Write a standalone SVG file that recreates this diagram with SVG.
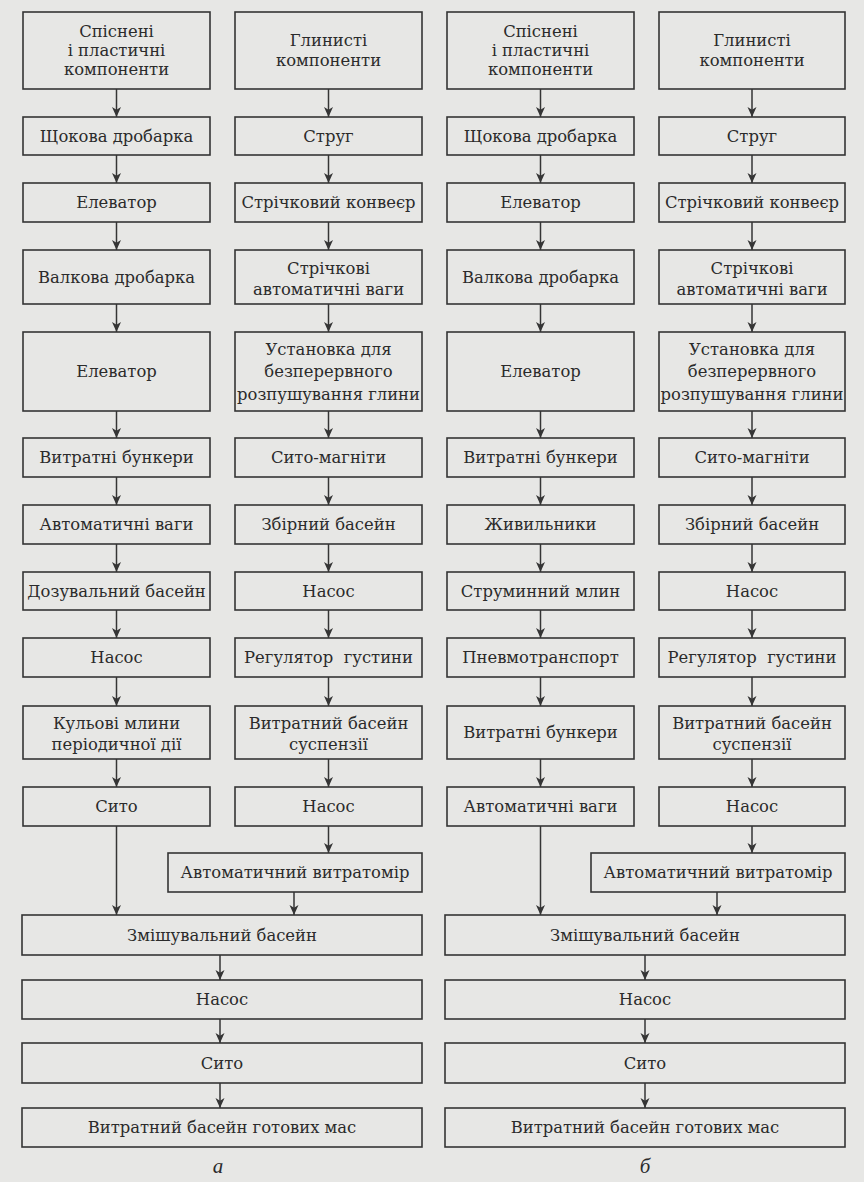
<svg xmlns="http://www.w3.org/2000/svg" width="864" height="1182" viewBox="0 0 864 1182">
<style>
.b{fill:none;stroke:#353535;stroke-width:1.6}
.t{font-family:"DejaVu Serif","Liberation Serif",serif;font-size:16.4px;fill:#2b2b2b;text-anchor:middle}
.c line{stroke:#353535;stroke-width:1.5}
.lab{font-family:"Liberation Serif",serif;font-style:italic;font-size:21px;fill:#2b2b2b;text-anchor:middle}
</style>
<defs>
<marker id="ah" markerUnits="userSpaceOnUse" markerWidth="10" markerHeight="11" refX="10" refY="4.5" orient="auto" viewBox="0 0 10 9">
<path d="M0,0 L10,4.5 L0,9 L2.8,4.5 z" fill="#353535"/>
</marker>
</defs>
<rect width="864" height="1182" fill="#e7e7e5"/>

<g class="c" id="connectors">
<line x1="116.5" y1="89" x2="116.5" y2="117" marker-end="url(#ah)"/>
<line x1="116.5" y1="155" x2="116.5" y2="183" marker-end="url(#ah)"/>
<line x1="116.5" y1="222" x2="116.5" y2="250" marker-end="url(#ah)"/>
<line x1="116.5" y1="304" x2="116.5" y2="332" marker-end="url(#ah)"/>
<line x1="116.5" y1="411" x2="116.5" y2="438" marker-end="url(#ah)"/>
<line x1="116.5" y1="477" x2="116.5" y2="505" marker-end="url(#ah)"/>
<line x1="116.5" y1="544" x2="116.5" y2="572" marker-end="url(#ah)"/>
<line x1="116.5" y1="610" x2="116.5" y2="638" marker-end="url(#ah)"/>
<line x1="116.5" y1="677" x2="116.5" y2="706" marker-end="url(#ah)"/>
<line x1="116.5" y1="759" x2="116.5" y2="787" marker-end="url(#ah)"/>
<line x1="116.5" y1="826" x2="116.5" y2="915" marker-end="url(#ah)"/>
<line x1="328.5" y1="89" x2="328.5" y2="117" marker-end="url(#ah)"/>
<line x1="328.5" y1="155" x2="328.5" y2="183" marker-end="url(#ah)"/>
<line x1="328.5" y1="222" x2="328.5" y2="250" marker-end="url(#ah)"/>
<line x1="328.5" y1="304" x2="328.5" y2="332" marker-end="url(#ah)"/>
<line x1="328.5" y1="411" x2="328.5" y2="438" marker-end="url(#ah)"/>
<line x1="328.5" y1="477" x2="328.5" y2="505" marker-end="url(#ah)"/>
<line x1="328.5" y1="544" x2="328.5" y2="572" marker-end="url(#ah)"/>
<line x1="328.5" y1="610" x2="328.5" y2="638" marker-end="url(#ah)"/>
<line x1="328.5" y1="677" x2="328.5" y2="706" marker-end="url(#ah)"/>
<line x1="328.5" y1="759" x2="328.5" y2="787" marker-end="url(#ah)"/>
<line x1="328.5" y1="826" x2="328.5" y2="853" marker-end="url(#ah)"/>
<line x1="294" y1="892" x2="294" y2="915" marker-end="url(#ah)"/>
<line x1="220" y1="955" x2="220" y2="980" marker-end="url(#ah)"/>
<line x1="220" y1="1019" x2="220" y2="1043" marker-end="url(#ah)"/>
<line x1="220" y1="1083" x2="220" y2="1108" marker-end="url(#ah)"/>

<line x1="540.5" y1="89" x2="540.5" y2="117" marker-end="url(#ah)"/>
<line x1="540.5" y1="155" x2="540.5" y2="183" marker-end="url(#ah)"/>
<line x1="540.5" y1="222" x2="540.5" y2="250" marker-end="url(#ah)"/>
<line x1="540.5" y1="304" x2="540.5" y2="332" marker-end="url(#ah)"/>
<line x1="540.5" y1="411" x2="540.5" y2="438" marker-end="url(#ah)"/>
<line x1="540.5" y1="477" x2="540.5" y2="505" marker-end="url(#ah)"/>
<line x1="540.5" y1="544" x2="540.5" y2="572" marker-end="url(#ah)"/>
<line x1="540.5" y1="610" x2="540.5" y2="638" marker-end="url(#ah)"/>
<line x1="540.5" y1="677" x2="540.5" y2="706" marker-end="url(#ah)"/>
<line x1="540.5" y1="759" x2="540.5" y2="787" marker-end="url(#ah)"/>
<line x1="540.5" y1="826" x2="540.5" y2="915" marker-end="url(#ah)"/>
<line x1="752" y1="89" x2="752" y2="117" marker-end="url(#ah)"/>
<line x1="752" y1="155" x2="752" y2="183" marker-end="url(#ah)"/>
<line x1="752" y1="222" x2="752" y2="250" marker-end="url(#ah)"/>
<line x1="752" y1="304" x2="752" y2="332" marker-end="url(#ah)"/>
<line x1="752" y1="411" x2="752" y2="438" marker-end="url(#ah)"/>
<line x1="752" y1="477" x2="752" y2="505" marker-end="url(#ah)"/>
<line x1="752" y1="544" x2="752" y2="572" marker-end="url(#ah)"/>
<line x1="752" y1="610" x2="752" y2="638" marker-end="url(#ah)"/>
<line x1="752" y1="677" x2="752" y2="706" marker-end="url(#ah)"/>
<line x1="752" y1="759" x2="752" y2="787" marker-end="url(#ah)"/>
<line x1="752" y1="826" x2="752" y2="853" marker-end="url(#ah)"/>
<line x1="717" y1="892" x2="717" y2="915" marker-end="url(#ah)"/>
<line x1="645" y1="955" x2="645" y2="980" marker-end="url(#ah)"/>
<line x1="645" y1="1019" x2="645" y2="1043" marker-end="url(#ah)"/>
<line x1="645" y1="1083" x2="645" y2="1108" marker-end="url(#ah)"/>
</g>

<!-- Diagram a, left column -->
<g id="a-l1"><rect class="b" x="23" y="12" width="187" height="77"/><text class="t" x="116.5" y="37">Спіснені</text><text class="t" x="116.5" y="56">і пластичні</text><text class="t" x="116.5" y="75">компоненти</text></g>
<g id="a-l2"><rect class="b" x="23" y="117" width="187" height="38"/><text class="t" x="116.5" y="142">Щокова дробарка</text></g>
<g id="a-l3"><rect class="b" x="23" y="183" width="187" height="39"/><text class="t" x="116.5" y="208">Елеватор</text></g>
<g id="a-l4"><rect class="b" x="23" y="250" width="187" height="54"/><text class="t" x="116.5" y="283">Валкова дробарка</text></g>
<g id="a-l5"><rect class="b" x="23" y="332" width="187" height="79"/><text class="t" x="116.5" y="377">Елеватор</text></g>
<g id="a-l6"><rect class="b" x="23" y="438" width="187" height="39"/><text class="t" x="116.5" y="463">Витратні бункери</text></g>
<g id="a-l7"><rect class="b" x="23" y="505" width="187" height="39"/><text class="t" x="116.5" y="530">Автоматичні ваги</text></g>
<g id="a-l8"><rect class="b" x="23" y="572" width="187" height="38"/><text class="t" x="116.5" y="597">Дозувальний басейн</text></g>
<g id="a-l9"><rect class="b" x="23" y="638" width="187" height="39"/><text class="t" x="116.5" y="663">Насос</text></g>
<g id="a-l10"><rect class="b" x="23" y="706" width="187" height="53"/><text class="t" x="116.5" y="729">Кульові млини</text><text class="t" x="116.5" y="750">періодичної дії</text></g>
<g id="a-l11"><rect class="b" x="23" y="787" width="187" height="39"/><text class="t" x="116.5" y="812">Сито</text></g>

<!-- Diagram a, right column -->
<g id="a-r1"><rect class="b" x="235" y="12" width="187" height="77"/><text class="t" x="328.5" y="46">Глинисті</text><text class="t" x="328.5" y="66">компоненти</text></g>
<g id="a-r2"><rect class="b" x="235" y="117" width="187" height="38"/><text class="t" x="328.5" y="142">Струг</text></g>
<g id="a-r3"><rect class="b" x="235" y="183" width="187" height="39"/><text class="t" x="328.5" y="208">Стрічковий конвеєр</text></g>
<g id="a-r4"><rect class="b" x="235" y="250" width="187" height="54"/><text class="t" x="328.5" y="274">Стрічкові</text><text class="t" x="328.5" y="295">автоматичні ваги</text></g>
<g id="a-r5"><rect class="b" x="235" y="332" width="187" height="79"/><text class="t" x="328.5" y="355">Установка для</text><text class="t" x="328.5" y="377">безперервного</text><text class="t" x="328.5" y="400">розпушування глини</text></g>
<g id="a-r6"><rect class="b" x="235" y="438" width="187" height="39"/><text class="t" x="328.5" y="463">Сито-магніти</text></g>
<g id="a-r7"><rect class="b" x="235" y="505" width="187" height="39"/><text class="t" x="328.5" y="530">Збірний басейн</text></g>
<g id="a-r8"><rect class="b" x="235" y="572" width="187" height="38"/><text class="t" x="328.5" y="597">Насос</text></g>
<g id="a-r9"><rect class="b" x="235" y="638" width="187" height="39"/><text class="t" x="328.5" y="663">Регулятор&#160; густини</text></g>
<g id="a-r10"><rect class="b" x="235" y="706" width="187" height="53"/><text class="t" x="328.5" y="729">Витратний басейн</text><text class="t" x="328.5" y="750">суспензії</text></g>
<g id="a-r11"><rect class="b" x="235" y="787" width="187" height="39"/><text class="t" x="328.5" y="812">Насос</text></g>
<g id="a-r12"><rect class="b" x="168" y="853" width="254" height="39"/><text class="t" x="295" y="878">Автоматичний витратомір</text></g>

<!-- Diagram a, common -->
<g id="a-m1"><rect class="b" x="22" y="915" width="400" height="40"/><text class="t" x="222" y="941">Змішувальний басейн</text></g>
<g id="a-m2"><rect class="b" x="22" y="980" width="400" height="39"/><text class="t" x="222" y="1005">Насос</text></g>
<g id="a-m3"><rect class="b" x="22" y="1043" width="400" height="40"/><text class="t" x="222" y="1069">Сито</text></g>
<g id="a-m4"><rect class="b" x="22" y="1108" width="400" height="39"/><text class="t" x="222" y="1133">Витратний басейн готових мас</text></g>
<text class="lab" x="218" y="1173">а</text>

<!-- Diagram b, left column -->
<g id="b-l1"><rect class="b" x="447" y="12" width="187" height="77"/><text class="t" x="540.5" y="37">Спіснені</text><text class="t" x="540.5" y="56">і пластичні</text><text class="t" x="540.5" y="75">компоненти</text></g>
<g id="b-l2"><rect class="b" x="447" y="117" width="187" height="38"/><text class="t" x="540.5" y="142">Щокова дробарка</text></g>
<g id="b-l3"><rect class="b" x="447" y="183" width="187" height="39"/><text class="t" x="540.5" y="208">Елеватор</text></g>
<g id="b-l4"><rect class="b" x="447" y="250" width="187" height="54"/><text class="t" x="540.5" y="283">Валкова дробарка</text></g>
<g id="b-l5"><rect class="b" x="447" y="332" width="187" height="79"/><text class="t" x="540.5" y="377">Елеватор</text></g>
<g id="b-l6"><rect class="b" x="447" y="438" width="187" height="39"/><text class="t" x="540.5" y="463">Витратні бункери</text></g>
<g id="b-l7"><rect class="b" x="447" y="505" width="187" height="39"/><text class="t" x="540.5" y="530">Живильники</text></g>
<g id="b-l8"><rect class="b" x="447" y="572" width="187" height="38"/><text class="t" x="540.5" y="597">Струминний млин</text></g>
<g id="b-l9"><rect class="b" x="447" y="638" width="187" height="39"/><text class="t" x="540.5" y="663">Пневмотранспорт</text></g>
<g id="b-l10"><rect class="b" x="447" y="706" width="187" height="53"/><text class="t" x="540.5" y="738">Витратні бункери</text></g>
<g id="b-l11"><rect class="b" x="447" y="787" width="187" height="39"/><text class="t" x="540.5" y="812">Автоматичні ваги</text></g>

<!-- Diagram b, right column -->
<g id="b-r1"><rect class="b" x="659" y="12" width="186" height="77"/><text class="t" x="752" y="46">Глинисті</text><text class="t" x="752" y="66">компоненти</text></g>
<g id="b-r2"><rect class="b" x="659" y="117" width="186" height="38"/><text class="t" x="752" y="142">Струг</text></g>
<g id="b-r3"><rect class="b" x="659" y="183" width="186" height="39"/><text class="t" x="752" y="208">Стрічковий конвеєр</text></g>
<g id="b-r4"><rect class="b" x="659" y="250" width="186" height="54"/><text class="t" x="752" y="274">Стрічкові</text><text class="t" x="752" y="295">автоматичні ваги</text></g>
<g id="b-r5"><rect class="b" x="659" y="332" width="186" height="79"/><text class="t" x="752" y="355">Установка для</text><text class="t" x="752" y="377">безперервного</text><text class="t" x="752" y="400">розпушування глини</text></g>
<g id="b-r6"><rect class="b" x="659" y="438" width="186" height="39"/><text class="t" x="752" y="463">Сито-магніти</text></g>
<g id="b-r7"><rect class="b" x="659" y="505" width="186" height="39"/><text class="t" x="752" y="530">Збірний басейн</text></g>
<g id="b-r8"><rect class="b" x="659" y="572" width="186" height="38"/><text class="t" x="752" y="597">Насос</text></g>
<g id="b-r9"><rect class="b" x="659" y="638" width="186" height="39"/><text class="t" x="752" y="663">Регулятор&#160; густини</text></g>
<g id="b-r10"><rect class="b" x="659" y="706" width="186" height="53"/><text class="t" x="752" y="729">Витратний басейн</text><text class="t" x="752" y="750">суспензії</text></g>
<g id="b-r11"><rect class="b" x="659" y="787" width="186" height="39"/><text class="t" x="752" y="812">Насос</text></g>
<g id="b-r12"><rect class="b" x="591" y="853" width="254" height="39"/><text class="t" x="718" y="878">Автоматичний витратомір</text></g>

<!-- Diagram b, common -->
<g id="b-m1"><rect class="b" x="445" y="915" width="400" height="40"/><text class="t" x="645" y="941">Змішувальний басейн</text></g>
<g id="b-m2"><rect class="b" x="445" y="980" width="400" height="39"/><text class="t" x="645" y="1005">Насос</text></g>
<g id="b-m3"><rect class="b" x="445" y="1043" width="400" height="40"/><text class="t" x="645" y="1069">Сито</text></g>
<g id="b-m4"><rect class="b" x="445" y="1108" width="400" height="39"/><text class="t" x="645" y="1133">Витратний басейн готових мас</text></g>
<text class="lab" x="645" y="1173">б</text>
</svg>
